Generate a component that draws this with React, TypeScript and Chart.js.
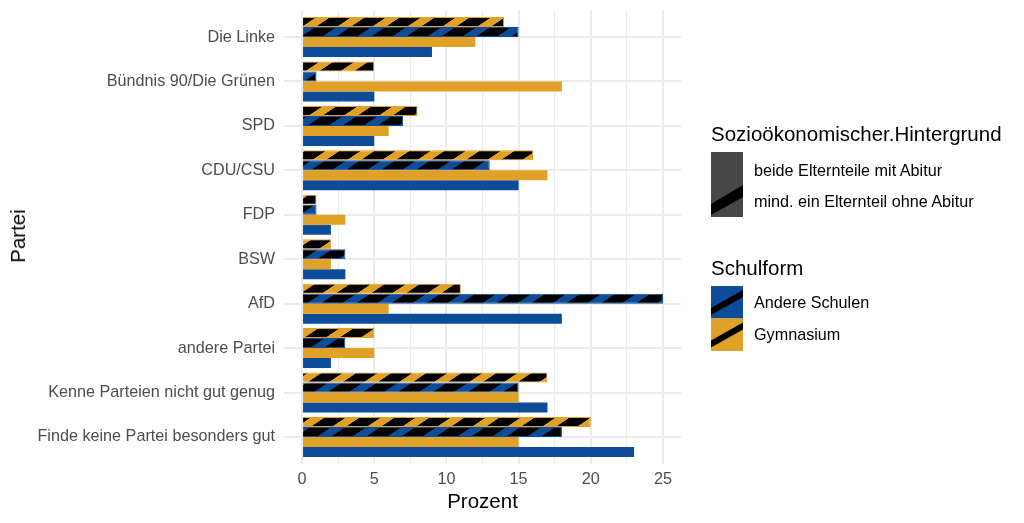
import { useEffect, useRef } from 'react';
import Chart from 'chart.js/auto';

// categories top to bottom
const parties = [
  'Die Linke',
  'Bündnis 90/Die Grünen',
  'SPD',
  'CDU/CSU',
  'FDP',
  'BSW',
  'AfD',
  'andere Partei',
  'Kenne Parteien nicht gut genug',
  'Finde keine Partei besonders gut'
];

// Prozent per party, one array per bar (top bar of each group first)
const gymOhneAbitur = [14, 5, 8, 16, 1, 2, 11, 5, 17, 20];
const andereOhneAbitur = [15, 1, 7, 13, 1, 3, 25, 3, 15, 18];
const gymMitAbitur = [12, 18, 6, 17, 3, 2, 6, 5, 15, 15];
const andereMitAbitur = [9, 5, 5, 15, 2, 3, 18, 2, 17, 23];

const xTicks = [0, 2.5, 5, 7.5, 10, 12.5, 15, 17.5, 20, 22.5, 25];

const BLUE = '#0C4C98';
const ORANGE = '#E1A126';
const GRID = '#EBEBEB';

function stripePattern(ctx: CanvasRenderingContext2D, color: string) {
  const tile = document.createElement('canvas');
  tile.width = 35;
  tile.height = 35;
  const t = tile.getContext('2d')!;
  t.fillStyle = color;
  t.fillRect(0, 0, 35, 35);
  t.fillStyle = '#000000';
  t.fillRect(0, 0, 21, 35);
  const p = ctx.createPattern(tile, 'repeat')!;
  p.setTransform(new DOMMatrix([1, 0, -1.5, 1, 6, 0]));
  return p;
}

const toPoints = (vals: number[]) => vals.map((v, i) => ({ x: v, y: i + 1 }));

export default function App() {
  const canvasRef = useRef<HTMLCanvasElement>(null);

  useEffect(() => {
    document.body.style.margin = '0';
    if (!canvasRef.current) return;
    const ctx = canvasRef.current.getContext('2d');
    if (!ctx) return;

    const chart = new Chart(ctx, {
      type: 'bar',
      data: {
        datasets: [
          {
            data: toPoints(gymOhneAbitur),
            backgroundColor: stripePattern(ctx, ORANGE),
            borderColor: ORANGE,
            borderWidth: 1
          },
          {
            data: toPoints(andereOhneAbitur),
            backgroundColor: stripePattern(ctx, BLUE),
            borderColor: BLUE,
            borderWidth: 1
          },
          {
            data: toPoints(gymMitAbitur),
            backgroundColor: ORANGE,
            borderWidth: 0
          },
          {
            data: toPoints(andereMitAbitur),
            backgroundColor: BLUE,
            borderWidth: 0
          }
        ]
      },
      options: {
        indexAxis: 'y',
        animation: false,
        responsive: true,
        maintainAspectRatio: false,
        categoryPercentage: 0.9,
        barPercentage: 1,
        layout: { padding: { top: 10.4, right: 343, left: 0, bottom: 0 } },
        plugins: {
          legend: { display: false },
          tooltip: { enabled: false }
        },
        scales: {
          x: {
            type: 'linear',
            min: -1.25,
            max: 26.25,
            afterBuildTicks: (scale) => {
              scale.ticks = xTicks.map((v) => ({ value: v }));
            },
            afterFit: (scale) => {
              scale.height = 59.4;
              scale.paddingLeft = 0;
              scale.paddingRight = 0;
            },
            ticks: {
              autoSkip: false,
              maxRotation: 0,
              padding: 6.5,
              color: '#4D4D4D',
              font: { family: 'Liberation Sans', size: 16.2 },
              callback: (v) => (Number(v) % 5 === 0 ? String(v) : '')
            },
            grid: {
              color: GRID,
              lineWidth: (c) => (c.tick && c.tick.value % 5 === 0 ? 2 : 1.2),
              drawTicks: false
            },
            border: { display: false }
          },
          y: {
            type: 'linear',
            min: 0.4,
            max: 10.6,
            offset: false,
            bounds: 'data',
            reverse: true,
            afterBuildTicks: (scale) => {
              scale.ticks = parties.map((_, i) => ({ value: i + 1 }));
            },
            afterFit: (scale) => {
              scale.width = 284;
              scale.paddingTop = 0;
              scale.paddingBottom = 0;
            },
            ticks: {
              autoSkip: false,
              padding: 9,
              color: '#4D4D4D',
              font: { family: 'Liberation Sans', size: 16.2 },
              callback: (v) => parties[Number(v) - 1] ?? ''
            },
            grid: { color: GRID, lineWidth: 2, drawTicks: false, offset: false },
            border: { display: false }
          }
        }
      }
    });

    return () => chart.destroy();
  }, []);

  const font = "'Liberation Sans', Arial, sans-serif";
  const label = (text: string, left: number, cy: number, size: number) => (
    <div
      style={{
        position: 'absolute',
        left,
        top: cy - 12,
        lineHeight: '24px',
        fontSize: size,
        whiteSpace: 'nowrap',
        color: '#000'
      }}
    >
      {text}
    </div>
  );

  return (
    <div style={{ position: 'relative', width: 1024, height: 523, fontFamily: font, background: '#fff' }}>
      <canvas ref={canvasRef} style={{ position: 'absolute', left: 0, top: 0, width: 1024, height: 523 }} />

      <div
        style={{
          position: 'absolute',
          left: 17.5,
          top: 236,
          transform: 'translate(-50%, -50%) rotate(-90deg)',
          fontSize: 20.5,
          whiteSpace: 'nowrap'
        }}
      >
        Partei
      </div>
      <div
        style={{
          position: 'absolute',
          left: 482.5,
          top: 501,
          transform: 'translate(-50%, -50%)',
          fontSize: 20.5,
          whiteSpace: 'nowrap'
        }}
      >
        Prozent
      </div>

      {label('Sozioökonomischer.Hintergrund', 711, 134, 20.5)}
      <svg style={{ position: 'absolute', left: 711, top: 152 }} width={32} height={65}>
        <rect x={0} y={0} width={32} height={65} fill="#474747" />
        <polygon points="0,52 32,33 32,45 0,63" fill="#000" />
      </svg>
      {label('beide Elternteile mit Abitur', 754, 170, 16.2)}
      {label('mind. ein Elternteil ohne Abitur', 754, 201, 16.2)}

      {label('Schulform', 711, 268, 20.5)}
      <svg style={{ position: 'absolute', left: 711, top: 286 }} width={32} height={65}>
        <rect x={0} y={0} width={32} height={32.5} fill={BLUE} />
        <rect x={0} y={32.5} width={32} height={32.5} fill={ORANGE} />
        <polygon points="0,22 32,4 32,11 0,29" fill="#000" />
        <polygon points="0,54.5 32,36.5 32,43.5 0,61.5" fill="#000" />
      </svg>
      {label('Andere Schulen', 754, 302, 16.2)}
      {label('Gymnasium', 754, 334, 16.2)}
    </div>
  );
}
